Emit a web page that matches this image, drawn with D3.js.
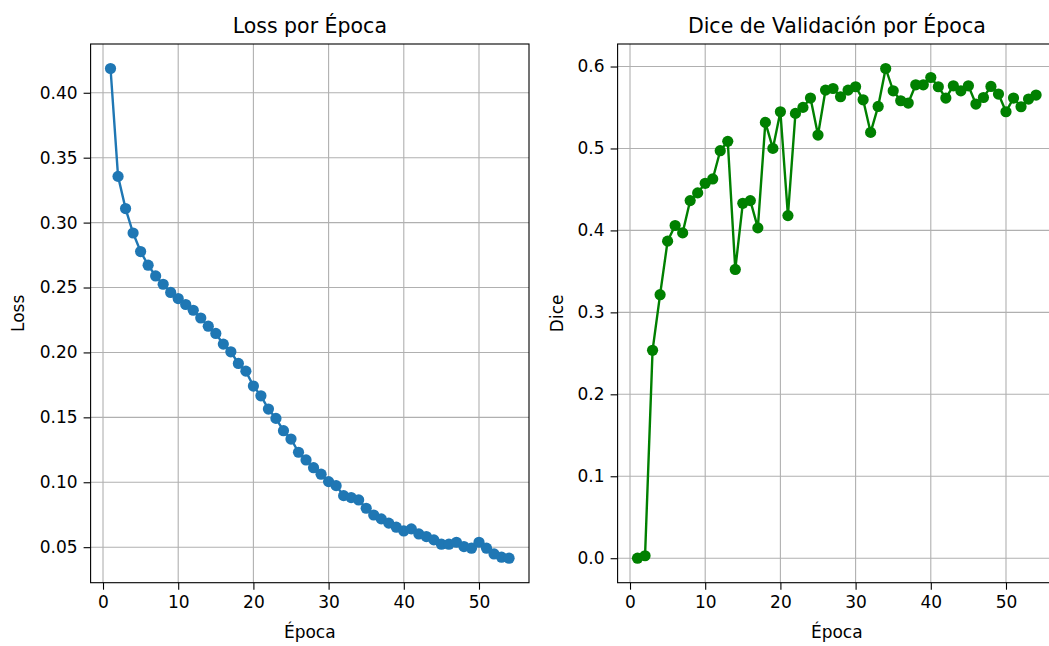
<!DOCTYPE html>
<html lang="es">
  <head>
    <meta charset="utf-8">
    <script src="https://d3js.org/d3.v7.min.js"></script>
    <title>Loss y Dice por Época</title>
    <style>
      body { margin:0; background:#fff; }
      svg text { font-family:"DejaVu Sans", sans-serif; fill:#000; }
      .grid line { stroke:#b0b0b0; stroke-width:1.1; }
      .axis path { display:none; }
      .axis line { stroke:#000; stroke-width:1.1; }
      .axis text { font-size:17px; }
    </style>
  </head>
  <body>
    <script>

      // datos
      var epochs = d3.range(1, 55);

      var loss = [0.4187, 0.3356, 0.3108, 0.2920, 0.2777, 0.2672, 0.2589, 0.2525, 0.2462, 0.2415,
                  0.2369, 0.2325, 0.2265, 0.2202, 0.2146, 0.2064, 0.2005, 0.1915, 0.1856, 0.1741,
                  0.1666, 0.1564, 0.1492, 0.1397, 0.1333, 0.1231, 0.1172, 0.1112, 0.1062, 0.1005,
                  0.0974, 0.0897, 0.0882, 0.0864, 0.0800, 0.0748, 0.0718, 0.0685, 0.0654, 0.0625,
                  0.0641, 0.0602, 0.0582, 0.0556, 0.0523, 0.0523, 0.0538, 0.0505, 0.0492, 0.0538,
                  0.0492, 0.0448, 0.0423, 0.0415];

      var dice = [0.0000, 0.0030, 0.2537, 0.3216, 0.3869, 0.4060, 0.3970, 0.4364, 0.4458, 0.4575,
                  0.4628, 0.4973, 0.5087, 0.3524, 0.4331, 0.4364, 0.4031, 0.5318, 0.5001, 0.5448,
                  0.4181, 0.5428, 0.5501, 0.5615, 0.5164, 0.5712, 0.5732, 0.5631, 0.5712, 0.5753,
                  0.5594, 0.5196, 0.5513, 0.5976, 0.5704, 0.5582, 0.5554, 0.5777, 0.5777, 0.5866,
                  0.5753, 0.5615, 0.5765, 0.5704, 0.5765, 0.5542, 0.5622, 0.5757, 0.5664, 0.5448,
                  0.5615, 0.5509, 0.5603, 0.5652];

      var xTicks = [0, 10, 20, 30, 40, 50];
      var lossTicks = [0.05, 0.10, 0.15, 0.20, 0.25, 0.30, 0.35, 0.40];
      var diceTicks = [0.0, 0.1, 0.2, 0.3, 0.4, 0.5, 0.6];

      var width = 1049, height = 646;
      var svg = d3.select("body").append("svg")
        .attr("width", width).attr("height", height);

      // dominio con 5% de margen, como matplotlib
      function padded(arr) {
        var e = d3.extent(arr), m = (e[1] - e[0]) * 0.05;
        return [e[0] - m, e[1] + m];
      }

      function panel(opts) {
        var x = d3.scaleLinear().domain(padded(epochs)).range([opts.left, opts.right]);
        var y = d3.scaleLinear().domain(padded(opts.values)).range([opts.bottom, opts.top]);
        var g = svg.append("g");

        g.append("defs").append("clipPath").attr("id", opts.id)
          .append("rect").attr("x", opts.left).attr("y", opts.top)
          .attr("width", opts.right - opts.left).attr("height", opts.bottom - opts.top);

        // rejilla
        var grid = g.append("g").attr("class", "grid");
        grid.selectAll(".gx").data(opts.xTicks).enter().append("line")
          .attr("x1", d => x(d)).attr("x2", d => x(d))
          .attr("y1", opts.top).attr("y2", opts.bottom);
        grid.selectAll(".gy").data(opts.yTicks).enter().append("line")
          .attr("y1", d => y(d)).attr("y2", d => y(d))
          .attr("x1", opts.left).attr("x2", opts.right);

        // linea + puntos
        var data = epochs.map((e, i) => [e, opts.values[i]]);
        var plot = g.append("g").attr("clip-path", "url(#" + opts.id + ")");
        plot.append("path").datum(data)
          .attr("fill", "none").attr("stroke", opts.color).attr("stroke-width", 2.4)
          .attr("d", d3.line().x(d => x(d[0])).y(d => y(d[1])));
        plot.selectAll("circle").data(data).enter().append("circle")
          .attr("cx", d => x(d[0])).attr("cy", d => y(d[1]))
          .attr("r", 5.6).attr("fill", opts.color);

        // ejes
        var xAxis = d3.axisBottom(x).tickValues(opts.xTicks).tickSize(7).tickPadding(6);
        g.append("g").attr("class", "axis")
          .attr("transform", "translate(0," + opts.bottom + ")").call(xAxis);
        var yAxis = d3.axisLeft(y).tickValues(opts.yTicks).tickSize(7).tickPadding(6)
          .tickFormat(d3.format(opts.fmt));
        g.append("g").attr("class", "axis")
          .attr("transform", "translate(" + opts.left + ",0)").call(yAxis);

        // marco
        g.append("rect").attr("x", opts.left).attr("y", opts.top)
          .attr("width", opts.right - opts.left).attr("height", opts.bottom - opts.top)
          .attr("fill", "none").attr("stroke", "#000").attr("stroke-width", 1.1);

        // textos
        g.append("text").attr("x", (opts.left + opts.right) / 2).attr("y", 33)
          .attr("text-anchor", "middle").style("font-size", "20.5px").text(opts.title);
        g.append("text").attr("x", (opts.left + opts.right) / 2).attr("y", 638)
          .attr("text-anchor", "middle").style("font-size", "17px").text("Época");
        g.append("text")
          .attr("transform", "translate(" + opts.ylabelX + "," + ((opts.top + opts.bottom) / 2) + ") rotate(-90)")
          .attr("text-anchor", "middle").style("font-size", "17px").text(opts.ylabel);
      }

      panel({
        id: "clipLoss", values: loss, color: "#1f77b4",
        left: 90.6, right: 529, top: 44, bottom: 582.7,
        xTicks: xTicks, yTicks: lossTicks, fmt: ".2f",
        title: "Loss por Época", ylabel: "Loss", ylabelX: 24
      });

      panel({
        id: "clipDice", values: dice, color: "green",
        left: 617.6, right: 1056, top: 44, bottom: 582.7,
        xTicks: xTicks, yTicks: diceTicks, fmt: ".1f",
        title: "Dice de Validación por Época", ylabel: "Dice", ylabelX: 563
      });

    </script>
  </body>
</html>
